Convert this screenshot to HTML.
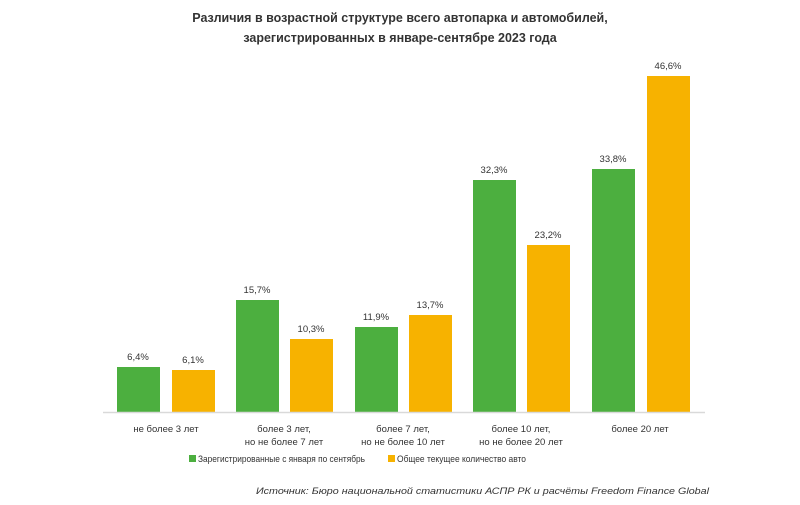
<!DOCTYPE html>
<html><head><meta charset="utf-8"><style>
body{margin:0;background:#fff;width:800px;height:500px;overflow:hidden}
svg{font-family:"Liberation Sans",sans-serif}
</style></head><body>
<svg width="800" height="500" xmlns="http://www.w3.org/2000/svg">
<text x="400" y="22" text-anchor="middle" font-size="12.5" font-weight="bold" fill="#333">Различия в возрастной структуре всего автопарка и автомобилей,</text>
<text x="400" y="42" text-anchor="middle" font-size="12.5" font-weight="bold" fill="#333">зарегистрированных в январе-сентябре 2023 года</text>
<g fill="#4caf3f">
<rect x="117" y="367" width="43" height="45"/>
<rect x="236" y="300" width="43" height="112"/>
<rect x="355" y="327" width="43" height="85"/>
<rect x="473" y="180" width="43" height="232"/>
<rect x="592" y="169" width="43" height="243"/>
</g>
<g fill="#f7b200">
<rect x="172" y="370" width="43" height="42"/>
<rect x="290" y="339" width="43" height="73"/>
<rect x="409" y="315" width="43" height="97"/>
<rect x="527" y="245" width="43" height="167"/>
<rect x="647" y="76" width="43" height="336"/>
</g>
<line x1="103" y1="412.5" x2="705" y2="412.5" stroke="#d9d9d9" stroke-width="1.5"/>
<g font-size="9.5" fill="#333" text-anchor="middle">
<text x="138" y="360">6,4%</text><text x="193" y="363">6,1%</text>
<text x="257" y="293">15,7%</text><text x="311" y="332">10,3%</text>
<text x="376" y="320">11,9%</text><text x="430" y="308">13,7%</text>
<text x="494" y="173">32,3%</text><text x="548" y="238">23,2%</text>
<text x="613" y="162">33,8%</text><text x="668" y="69">46,6%</text>
</g>
<g font-size="9.5" fill="#333" text-anchor="middle">
<text x="166" y="432">не более 3 лет</text>
<text x="284" y="432">более 3 лет,</text><text x="284" y="445">но не более 7 лет</text>
<text x="403" y="432">более 7 лет,</text><text x="403" y="445">но не более 10 лет</text>
<text x="521" y="432">более 10 лет,</text><text x="521" y="445">но не более 20 лет</text>
<text x="640" y="432">более 20 лет</text>
</g>
<rect x="189" y="455" width="7" height="7" fill="#4caf3f"/>
<text x="198" y="462" font-size="9.5" fill="#333" textLength="167" lengthAdjust="spacingAndGlyphs">Зарегистрированные с января по сентябрь</text>
<rect x="388" y="455" width="7" height="7" fill="#f7b200"/>
<text x="397" y="462" font-size="9.5" fill="#333" textLength="129" lengthAdjust="spacingAndGlyphs">Общее текущее количество авто</text>
<text x="256" y="494" font-size="9.5" font-style="italic" fill="#333" textLength="453" lengthAdjust="spacingAndGlyphs">Источник: Бюро национальной статистики АСПР РК и расчёты Freedom Finance Global</text>
</svg>
</body></html>
